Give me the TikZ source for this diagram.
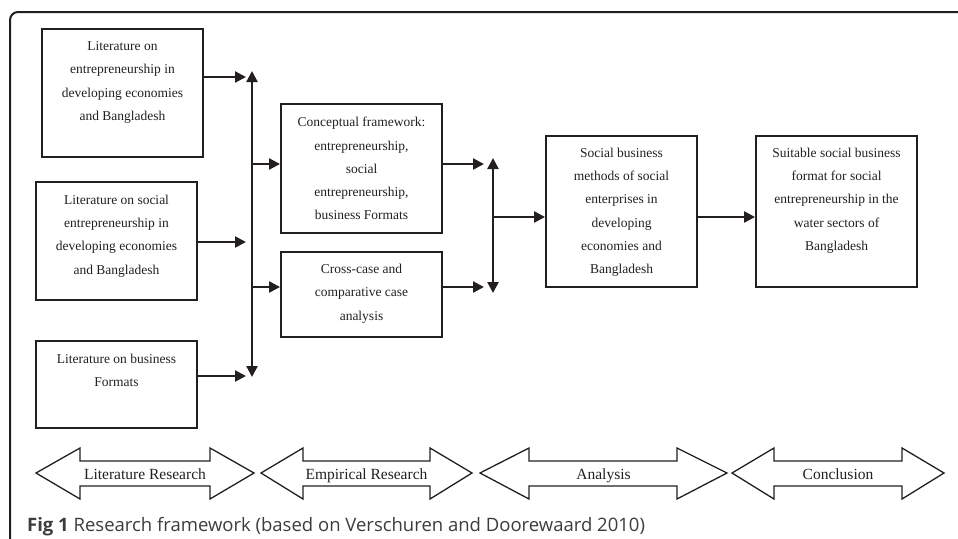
\documentclass[tikz,border=0pt]{standalone}
\usepackage{fontspec}
\setmainfont{Liberation Serif}
\newfontfamily\capfont{Open Sans}
\usetikzlibrary{arrows.meta,calc}
\definecolor{ink}{HTML}{231F20}
\definecolor{capgray}{HTML}{3C3C3C}
\tikzset{
  boxshape/.style={draw=ink, line width=1.9pt, rectangle, inner sep=0pt},
  boxtext/.style={align=center, text=ink, inner sep=0pt, anchor=north,
    font=\fontsize{13.5}{23.3}\selectfont},
  conn/.style={draw=ink, line width=2.3pt, -{Triangle[length=11pt,width=11pt]}},
  dconn/.style={draw=ink, line width=2.3pt, {Triangle[length=11pt,width=11pt]}-{Triangle[length=11pt,width=11pt]}},
  phase/.style={draw=ink, line width=1.3pt, fill=white, line join=miter},
  phasetext/.style={text=ink, inner sep=0pt, anchor=base, font=\fontsize{15.5}{18}\selectfont},
}
\begin{document}
\begin{tikzpicture}[x=1pt,y=-1pt]
\useasboundingbox (0,0) rectangle (958,538);
% frame
\draw[draw=ink, line width=2pt, rounded corners=8pt] (10,540) -- (10,12) -- (960,12);

% boxes
\node[boxshape, minimum width=161, minimum height=128] (b1) at (122.5,93) {};
\node[boxtext] (t1) at ($(b1.north)+(0,13.5)$) {Literature on\\entrepreneurship in\\developing economies\\and Bangladesh};
\node[boxshape, minimum width=161, minimum height=118] (b2) at (116.5,241) {};
\node[boxtext] (t2) at ($(b2.north)+(0,13.5)$) {Literature on social\\entrepreneurship in\\developing economies\\and Bangladesh};
\node[boxshape, minimum width=161, minimum height=87] (b3) at (116.5,384.5) {};
\node[boxtext] (t3) at ($(b3.north)+(0,13.5)$) {Literature on business\\Formats};

\node[boxshape, minimum width=161, minimum height=129] (c1) at (361.5,168.5) {};
\node[boxtext] (tc1) at ($(c1.north)+(0,14)$) {Conceptual framework:\\entrepreneurship,\\social\\entrepreneurship,\\business Formats};
\node[boxshape, minimum width=161, minimum height=85] (c2) at (361.5,294.5) {};
\node[boxtext] (tc2) at ($(c2.north)+(0,13)$) {Cross-case and\\comparative case\\analysis};

\node[boxshape, minimum width=151, minimum height=151] (s1) at (621.5,211.5) {};
\node[boxtext] (ts1) at ($(s1.north)+(0,12.5)$) {Social business\\methods of social\\enterprises in\\developing\\economies and\\Bangladesh};
\node[boxshape, minimum width=161, minimum height=151] (s2) at (836.5,211.5) {};
\node[boxtext] (ts2) at ($(s2.north)+(0,12.5)$) {Suitable social business\\format for social\\entrepreneurship in the\\water sectors of\\Bangladesh};

% junction coordinates
\coordinate (j1a) at (246,77);
\coordinate (j1b) at (246,242);
\coordinate (j1c) at (246,376);
\coordinate (v1t) at (252,71);
\coordinate (v1b) at (252,377);
\coordinate (v1c) at (252,164);
\coordinate (v1d) at (252,287);
\coordinate (j2a) at (484,164);
\coordinate (j2b) at (484,287);
\coordinate (v2t) at (493,158);
\coordinate (v2b) at (493,293);
\coordinate (v2m) at (493,217);

\draw[conn] (b1.east |- j1a) -- (j1a);
\draw[conn] (b2.east |- j1b) -- (j1b);
\draw[conn] (b3.east |- j1c) -- (j1c);
\draw[dconn] (v1b) -- (v1t);
\draw[conn] (v1c) -- (c1.west |- v1c);
\draw[conn] (v1d) -- (c2.west |- v1d);
\draw[conn] (c1.east |- j2a) -- (j2a);
\draw[conn] (c2.east |- j2b) -- (j2b);
\draw[dconn] (v2b) -- (v2t);
\draw[conn] (v2m) -- (s1.west |- v2m);
\draw[conn] (s1.east |- v2m) -- (s2.west |- v2m);

% phase arrows
\newcommand{\phasearrow}[5]{%
  \draw[phase] (#1,473) -- (#3,448) -- (#3,461) -- (#4,461) -- (#4,448) -- (#2,473)
    -- (#4,499) -- (#4,486) -- (#3,486) -- (#3,499) -- cycle;
  \node[phasetext] at ({(#1+#2)/2},479.5) {#5};}
\phasearrow{36}{254}{80}{210}{Literature Research}
\phasearrow{261}{472}{303}{430}{Empirical Research}
\phasearrow{480}{727}{529}{677}{Analysis}
\phasearrow{732}{944}{774}{902}{Conclusion}

% caption
\node[anchor=base west, inner sep=0pt, text=capgray, font=\capfont\fontsize{18.5}{20}\selectfont] (cap) at (27,531)
  {\textbf{Fig 1} Research framework (based on Verschuren and Doorewaard 2010)};
\end{tikzpicture}
\end{document}
